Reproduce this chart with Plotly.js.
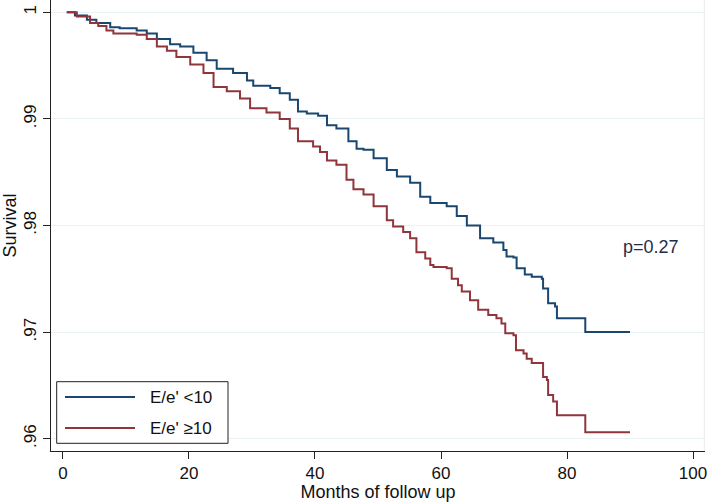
<!DOCTYPE html>
<html>
<head>
<meta charset="utf-8">
<script src="https://cdn.plot.ly/plotly-3.0.1.min.js"></script>
<style>html,body{margin:0;padding:0;background:#fff;}#chart{width:709px;height:502px;}</style>
</head>
<body>
<div id="chart"></div>
<script>
// Kaplan-Meier survival, E/e' < 10
var lowMonths = [0.6,1.9,3.8,5.3,7.5,9.0,11.7,13.3,14.9,17.0,18.6,20.7,22.8,24.4,27.0,29.2,30.2,32.9,34.4,36.0,37.3,38.7,40.5,41.9,43.4,45.3,46.6,47.7,49.3,51.4,53.0,55.1,56.7,58.3,60.9,62.5,64.1,66.2,68.3,69.9,70.4,71.5,72.0,73.3,74.4,76.0,76.2,77.0,78.1,78.4,82.9,90.0];
var lowSurv = [1.0,0.9997,0.9993,0.9990,0.9986,0.9985,0.9983,0.9980,0.9975,0.9970,0.9968,0.9962,0.9955,0.9947,0.9943,0.9936,0.9931,0.9929,0.9924,0.9918,0.9907,0.9905,0.9903,0.9894,0.9891,0.9879,0.9872,0.9871,0.9863,0.9852,0.9846,0.9840,0.9827,0.9821,0.9818,0.9809,0.9800,0.9788,0.9784,0.9777,0.9771,0.9770,0.9760,0.9754,0.9752,0.9750,0.9741,0.9727,0.9724,0.9713,0.9700,0.9700];
// Kaplan-Meier survival, E/e' >= 10
var highMonths = [0.6,2.2,4.3,5.6,6.9,8.0,11.7,13.3,14.9,16.5,18.0,20.2,22.3,23.9,26.0,28.1,29.7,32.3,34.4,36.0,37.3,39.7,40.8,41.9,43.4,45.0,46.1,47.7,49.3,51.4,52.4,54.0,55.1,56.1,57.5,58.3,58.8,60.9,61.7,62.7,63.3,64.6,65.9,67.5,68.8,69.6,70.2,71.5,71.9,73.1,73.6,74.4,76.0,76.2,76.8,77.0,77.8,78.4,82.9,90.0];
var highSurv = [1.0,0.9996,0.9990,0.9987,0.9983,0.9980,0.9979,0.9975,0.9968,0.9964,0.9958,0.9951,0.9943,0.9930,0.9926,0.9919,0.9910,0.9906,0.9900,0.9891,0.9879,0.9874,0.9869,0.9861,0.9857,0.9843,0.9834,0.9829,0.9818,0.9805,0.9799,0.9794,0.9788,0.9775,0.9769,0.9763,0.9761,0.9760,0.9750,0.9744,0.9738,0.9730,0.9721,0.9716,0.9713,0.9708,0.9699,0.9697,0.9683,0.9680,0.9675,0.9671,0.9671,0.9658,0.9655,0.9641,0.9635,0.9622,0.9606,0.9606];

var seriesNames = ["E/e' <10", "E/e' \u226510"];
var xTicks = [0,20,40,60,80,100];
var yTicks = [0.96,0.97,0.98,0.99,1];
var yTickText = [".96",".97",".98",".99","1"];
var pText = "p=0.27";
var pPos = [93.3, 0.9780];

var blue = '#1a476f', red = '#90353b';
var FONT = 'Liberation Sans, Arial, Helvetica, sans-serif';

var traces = [
  {x: lowMonths, y: lowSurv, type: 'scatter', mode: 'lines', name: seriesNames[0],
   line: {color: blue, width: 2, shape: 'hv'}, showlegend: false},
  {x: highMonths, y: highSurv, type: 'scatter', mode: 'lines', name: seriesNames[1],
   line: {color: red, width: 2, shape: 'hv'}, showlegend: false}
];

// manual legend in paper coordinates (plot area x 51..705, y 0..451)
function px(x){return (x-51)/654;}
function py(y){return (451-y)/451;}
var layout = {
  width: 709, height: 502,
  margin: {l: 51, r: 4, t: 0, b: 51},
  paper_bgcolor: '#fff', plot_bgcolor: '#fff',
  font: {family: FONT, color: '#111', size: 17},
  xaxis: {
    range: [-1.9, 101.9], tickvals: xTicks, ticks: 'outside', ticklen: 7, tickwidth: 1, tickcolor: '#222',
    showline: true, linecolor: '#222', linewidth: 1, showgrid: false, zeroline: false,
    tickfont: {size: 17}, title: {text: 'Months of follow up', font: {size: 18}, standoff: 3}
  },
  yaxis: {
    range: [0.95885, 1.00115], tickvals: yTicks, ticktext: yTickText, tickangle: -90,
    ticks: 'outside', ticklen: 7, tickwidth: 1, tickcolor: '#222',
    showline: true, linecolor: '#222', linewidth: 1, showgrid: true, gridcolor: '#eaf2f3', gridwidth: 1, zeroline: false,
    tickfont: {size: 17}, title: {text: 'Survival', font: {size: 18}, standoff: 2}
  },
  shapes: [
    {type: 'line', xref: 'paper', yref: 'paper', x0: px(704.3), x1: px(704.3), y0: 0, y1: 1,
     line: {color: '#e6ecee', width: 1}, layer: 'below'},
    {type: 'rect', xref: 'paper', yref: 'paper', x0: px(56.7), x1: px(228), y0: py(443.3), y1: py(381.7),
     line: {color: '#222', width: 1}, fillcolor: '#fff', layer: 'above'},
    {type: 'line', xref: 'paper', yref: 'paper', x0: px(65), x1: px(135), y0: py(397), y1: py(397),
     line: {color: blue, width: 2}, layer: 'above'},
    {type: 'line', xref: 'paper', yref: 'paper', x0: px(65), x1: px(135), y0: py(428), y1: py(428),
     line: {color: red, width: 2}, layer: 'above'}
  ],
  annotations: [
    {xref: 'paper', yref: 'paper', x: px(148), y: py(397), xanchor: 'left', yanchor: 'middle',
     text: seriesNames[0], showarrow: false, font: {size: 17, color: '#111'}},
    {xref: 'paper', yref: 'paper', x: px(148), y: py(428), xanchor: 'left', yanchor: 'middle',
     text: seriesNames[1], showarrow: false, font: {size: 17, color: '#111'}},
    {xref: 'x', yref: 'y', x: pPos[0], y: pPos[1], xanchor: 'center', yanchor: 'middle',
     text: pText, showarrow: false, font: {size: 18, color: '#1f2d4d'}}
  ]
};

Plotly.newPlot('chart', traces, layout, {displayModeBar: false, staticPlot: true});
</script>
</body>
</html>
